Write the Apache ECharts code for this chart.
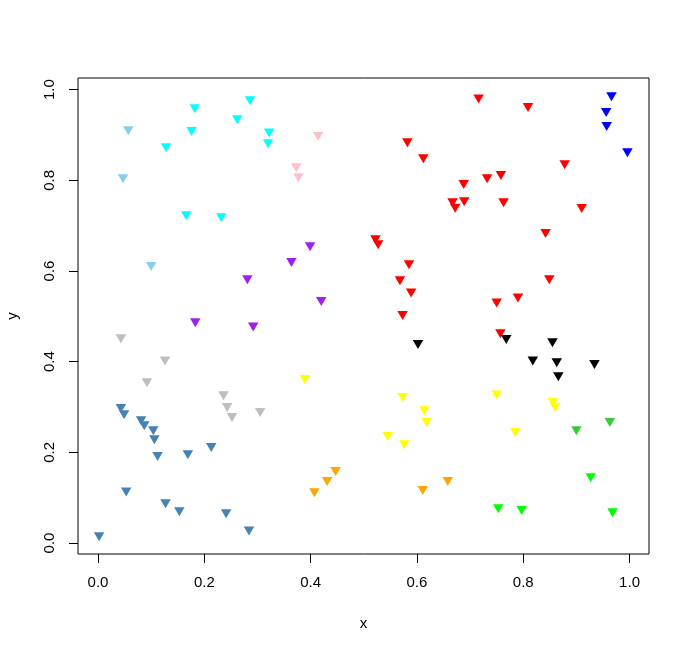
<!DOCTYPE html>
<html>
<head>
<meta charset="utf-8">
<script src="https://cdn.jsdelivr.net/npm/echarts@6/dist/echarts.min.js"></script>
<style>
  html, body { margin: 0; padding: 0; background: #ffffff; }
  #chart { width: 689px; height: 652px; }
</style>
</head>
<body>
<div id="chart"></div>
<script>
// Point groups: [x, y]
const skyblueGroup = [[0.057,0.913],[0.047,0.807],[0.100,0.613]];
const cyanGroup = [[0.182,0.961],[0.176,0.911],[0.128,0.875],[0.262,0.937],[0.286,0.979],[0.322,0.908],[0.320,0.884],[0.166,0.725],[0.232,0.721]];
const pinkGroup = [[0.414,0.900],[0.373,0.831],[0.377,0.809]];
const blueGroup = [[0.966,0.988],[0.956,0.953],[0.957,0.922],[0.996,0.864]];
const redGroup = [[0.716,0.983],[0.809,0.964],[0.582,0.886],[0.612,0.851],[0.878,0.838],[0.688,0.794],[0.732,0.807],[0.758,0.814],[0.689,0.756],[0.667,0.754],[0.672,0.742],[0.763,0.754],[0.910,0.741],[0.522,0.672],[0.527,0.661],[0.842,0.686],[0.585,0.617],[0.568,0.582],[0.589,0.555],[0.573,0.505],[0.849,0.584],[0.790,0.544],[0.750,0.533],[0.757,0.465]];
const purpleGroup = [[0.281,0.584],[0.183,0.489],[0.292,0.480],[0.399,0.657],[0.364,0.622],[0.420,0.536]];
const grayGroup = [[0.043,0.454],[0.126,0.405],[0.092,0.357],[0.236,0.328],[0.243,0.302],[0.252,0.280],[0.305,0.291]];
const blackGroup = [[0.602,0.441],[0.768,0.452],[0.855,0.445],[0.818,0.405],[0.863,0.401],[0.934,0.397],[0.866,0.370]];
const yellowGroup = [[0.389,0.364],[0.573,0.324],[0.614,0.295],[0.618,0.269],[0.545,0.238],[0.576,0.220],[0.750,0.330],[0.856,0.313],[0.860,0.302],[0.785,0.247]];
const steelblueGroup = [[0.043,0.300],[0.049,0.286],[0.081,0.273],[0.087,0.262],[0.104,0.251],[0.106,0.231],[0.112,0.194],[0.169,0.198],[0.213,0.214],[0.053,0.116],[0.127,0.090],[0.153,0.072],[0.241,0.068],[0.284,0.030],[0.002,0.017]];
const orangeGroup = [[0.447,0.161],[0.431,0.139],[0.407,0.114],[0.611,0.119],[0.658,0.139]];
const limegreenGroup = [[0.900,0.251],[0.963,0.269]];
const greenGroup = [[0.927,0.147],[0.753,0.079],[0.797,0.075],[0.968,0.070]];

const groupNames = ['skyblue','cyan','pink','blue','red','purple','gray','black','yellow','steelblue','orange','limegreen','green'];
const groupColors = ['#87CEEB','#00FFFF','#FFC0CB','#0000FF','#FF0000','#A020F0','#BEBEBE','#000000','#FFFF00','#4682B4','#FFA500','#32CD32','#00FF00'];
const groupData = [skyblueGroup,cyanGroup,pinkGroup,blueGroup,redGroup,purpleGroup,grayGroup,blackGroup,yellowGroup,steelblueGroup,orangeGroup,limegreenGroup,greenGroup];

const xTicks = [0, 0.2, 0.4, 0.6, 0.8, 1.0];
const yTicks = [0, 0.2, 0.4, 0.6, 0.8, 1.0];

const chart = echarts.init(document.getElementById('chart'), null, { renderer: 'canvas' });
const fontFamily = '"Liberation Sans", Arial, sans-serif';

const series = groupData.map((d, i) => ({
  name: groupNames[i],
  type: 'scatter',
  data: d,
  symbol: 'triangle',
  symbolRotate: 180,
  symbolSize: [10.5, 9],
  symbolOffset: [0, 1.5],
  itemStyle: { color: groupColors[i], opacity: 1 },
  emphasis: { disabled: true },
  silent: true,
  animation: false
}));

chart.setOption({
  backgroundColor: '#ffffff',
  animation: false,
  grid: {
    left: 78, right: 40, top: 78, bottom: 98,
    containLabel: false, outerBoundsMode: 'none',
    show: true, borderColor: '#000000', borderWidth: 1, backgroundColor: 'transparent'
  },
  xAxis: {
    type: 'value',
    min: -0.0377, max: 1.0366,
    name: 'x', nameLocation: 'middle', nameGap: 62,
    nameTextStyle: { fontFamily, fontSize: 15, color: '#000' },
    axisLine: { show: false, onZero: false },
    axisTick: { show: true, inside: false, length: 9, customValues: xTicks, lineStyle: { color: '#000', width: 1 } },
    axisLabel: { show: true, customValues: xTicks, margin: 21, fontFamily, fontSize: 15, color: '#000',
      formatter: v => Number(v).toFixed(1) },
    splitLine: { show: false }
  },
  yAxis: {
    type: 'value',
    min: -0.0243, max: 1.0258,
    name: 'y', nameLocation: 'middle', nameGap: 58, nameRotate: 90,
    nameTextStyle: { fontFamily, fontSize: 15, color: '#000' },
    axisLine: { show: false, onZero: false },
    axisTick: { show: true, inside: false, length: 9, customValues: yTicks, lineStyle: { color: '#000', width: 1 } },
    axisLabel: { show: true, customValues: yTicks, margin: 21, rotate: 90, fontFamily, fontSize: 15, color: '#000',
      formatter: v => Number(v).toFixed(1) },
    splitLine: { show: false }
  },
  series
});
</script>
</body>
</html>
